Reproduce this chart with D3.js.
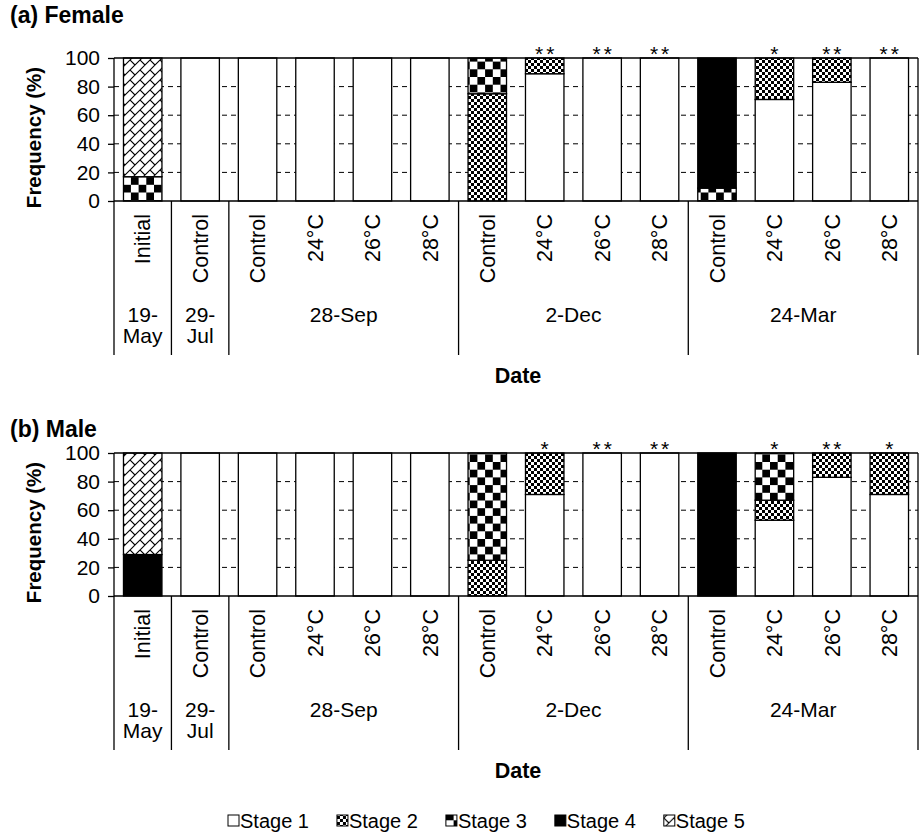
<!DOCTYPE html>
<html>
<head>
<meta charset="utf-8">
<script src="https://cdn.jsdelivr.net/npm/d3@7"></script>
<style>
  html, body { margin: 0; padding: 0; background: #fff; }
  svg { display: block; font-family: "Liberation Sans", Arial, sans-serif; }
</style>
</head>
<body>
<svg id="chart" width="922" height="835"></svg>
<script>
// ---------------- DATA ----------------
const categories = ["Initial","Control","Control","24°C","26°C","28°C","Control","24°C","26°C","28°C","Control","24°C","26°C","28°C"];
const groupLabels = [["19-","May"],["29-","Jul"],["28-Sep"],["2-Dec"],["24-Mar"]];
const groupSizes = [1,1,4,4,4];
const stageNames = ["Stage 1","Stage 2","Stage 3","Stage 4","Stage 5"];
const yTicks = [0,20,40,60,80,100];

const femaleStage1 = [0,100,100,100,100,100,0,89,100,100,0,71,83,100];
const femaleStage2 = [0,0,0,0,0,0,75,11,0,0,0,29,17,0];
const femaleStage3 = [17,0,0,0,0,0,25,0,0,0,9,0,0,0];
const femaleStage4 = [0,0,0,0,0,0,0,0,0,0,91,0,0,0];
const femaleStage5 = [83,0,0,0,0,0,0,0,0,0,0,0,0,0];
const femaleSig = ["","","","","","","","**","**","**","","*","**","**"];

const maleStage1 = [0,100,100,100,100,100,0,71,100,100,0,53,83,71];
const maleStage2 = [0,0,0,0,0,0,25,29,0,0,0,14,17,29];
const maleStage3 = [0,0,0,0,0,0,75,0,0,0,0,33,0,0];
const maleStage4 = [29,0,0,0,0,0,0,0,0,0,100,0,0,0];
const maleStage5 = [71,0,0,0,0,0,0,0,0,0,0,0,0,0];
const maleSig = ["","","","","","","","*","**","**","","*","**","*"];

// ---------------- SETUP ----------------
const svg = d3.select("#chart");
const defs = svg.append("defs");

// Stage 2: fine checker
const p2 = defs.append("pattern").attr("id","pat2").attr("patternUnits","userSpaceOnUse")
  .attr("width",6).attr("height",6);
p2.append("rect").attr("width",6).attr("height",6).attr("fill","#fff");
p2.append("rect").attr("width",3).attr("height",3).attr("fill","#000");
p2.append("rect").attr("x",3).attr("y",3).attr("width",3).attr("height",3).attr("fill","#000");

// Stage 3: large checker
const p3 = defs.append("pattern").attr("id","pat3").attr("patternUnits","userSpaceOnUse")
  .attr("width",15.4).attr("height",15.4);
p3.append("rect").attr("width",15.4).attr("height",15.4).attr("fill","#fff");
p3.append("rect").attr("width",7.7).attr("height",7.7).attr("fill","#000");
p3.append("rect").attr("x",7.7).attr("y",7.7).attr("width",7.7).attr("height",7.7).attr("fill","#000");

// Stage 5: diagonal brick
const p5 = defs.append("pattern").attr("id","pat5").attr("patternUnits","userSpaceOnUse")
  .attr("width",10).attr("height",10);
p5.append("rect").attr("width",10).attr("height",10).attr("fill","#fff");
p5.append("path")
  .attr("d","M0,10 L10,0 M-1,1 L1,-1 M9,11 L11,9 M0,0 L5,5")
  .attr("stroke","#000").attr("stroke-width",1.1).attr("fill","none");

const fills = ["#fff","url(#pat2)","url(#pat3)","#000","url(#pat5)"];

const left = 114, right = 918;
const x = d3.scaleBand().domain(d3.range(categories.length)).range([left,right])
  .paddingInner(0.33).paddingOuter(0.165);
const step = x.step();

function drawPanel(opts) {
  const { top, title, titleY, stages, sig } = opts;
  const bottom = top + 143;
  const y = d3.scaleLinear().domain([0,100]).range([bottom, top]);
  const g = svg.append("g");

  // title
  g.append("text").attr("x",10).attr("y",titleY).attr("font-size",23)
    .attr("font-weight","bold").text(title);

  // dashed grid
  g.append("g").selectAll("line").data(yTicks.filter(t => t > 0 && t < 100)).join("line")
    .attr("x1",left).attr("x2",right).attr("y1",d => y(d)).attr("y2",d => y(d))
    .attr("stroke","#000").attr("stroke-width",1).attr("stroke-dasharray","5,4");

  // stacked bars
  const rows = categories.map((c,i) => {
    const r = { i };
    stageNames.forEach((s,k) => r[s] = stages[k][i]);
    return r;
  });
  const series = d3.stack().keys(stageNames)(rows);
  series.forEach((s,k) => {
    g.append("g").selectAll("rect").data(s.filter(d => d[1] - d[0] > 0)).join("rect")
      .attr("x", d => x(d.data.i))
      .attr("width", x.bandwidth())
      .attr("y", d => y(d[1]))
      .attr("height", d => y(d[0]) - y(d[1]))
      .attr("fill", fills[k])
      .attr("stroke","#000").attr("stroke-width",1.3);
  });

  // frame top & bottom axis
  g.append("line").attr("x1",left).attr("x2",right).attr("y1",top).attr("y2",top)
    .attr("stroke","#000").attr("stroke-width",1.3);
  g.append("line").attr("x1",left).attr("x2",right).attr("y1",bottom).attr("y2",bottom)
    .attr("stroke","#000").attr("stroke-width",1.3);

  // y axis
  const yAxis = d3.axisLeft(y).tickValues(yTicks).tickSize(6).tickPadding(8);
  const ya = g.append("g").attr("transform",`translate(${left},0)`).call(yAxis);
  ya.select(".domain").remove();
  ya.selectAll(".tick line").attr("stroke","#000").attr("stroke-width",1.3);
  ya.selectAll(".tick text").attr("font-size",21).attr("fill","#000")
    .attr("font-family","Liberation Sans, Arial, sans-serif");

  // vertical lines: left, right and group separators
  const sepBottom = bottom + 154;
  g.append("line").attr("x1",left).attr("x2",left).attr("y1",top).attr("y2",sepBottom)
    .attr("stroke","#000").attr("stroke-width",1.3);
  g.append("line").attr("x1",right).attr("x2",right).attr("y1",top).attr("y2",sepBottom)
    .attr("stroke","#000").attr("stroke-width",1.3);
  let acc = 0;
  const groupPos = [];
  groupSizes.forEach((n,gi) => {
    const x0 = x(acc) - x.step()*x.paddingOuter();
    const x1 = x0 + n*step;
    groupPos.push({ x0, x1, label: groupLabels[gi] });
    acc += n;
  });
  groupPos.slice(1).forEach(gp => {
    g.append("line").attr("x1",gp.x0).attr("x2",gp.x0).attr("y1",bottom).attr("y2",sepBottom)
      .attr("stroke","#000").attr("stroke-width",1.3);
  });

  // category labels
  g.append("g").selectAll("text").data(categories).join("text")
    .attr("transform",(d,i) => `translate(${x(i)+x.bandwidth()/2},${bottom+13}) rotate(-90)`)
    .attr("text-anchor","end").attr("dy","0.36em").attr("font-size",21.5).text(d => d);

  // group labels
  groupPos.forEach(gp => {
    const t = g.append("text").attr("text-anchor","middle").attr("font-size",21);
    gp.label.forEach((line,li) => {
      t.append("tspan").attr("x",(gp.x0+gp.x1)/2).attr("y",bottom + 121 + li*21).text(line);
    });
  });

  // significance
  g.append("g").selectAll("text").data(sig).join("text")
    .attr("x",(d,i) => x(i)+x.bandwidth()/2 + 1.5)
    .attr("y", top + 3)
    .attr("text-anchor","middle").attr("font-size",21).attr("letter-spacing",3)
    .text(d => d);

  // axis titles
  g.append("text").attr("transform",`translate(41,${(top+bottom)/2 + 8}) rotate(-90)`)
    .attr("text-anchor","middle").attr("font-size",20.5).attr("font-weight","bold")
    .text("Frequency (%)");
  g.append("text").attr("x",(left+right)/2 + 2).attr("y",bottom + 182)
    .attr("text-anchor","middle").attr("font-size",21.5).attr("font-weight","bold")
    .text("Date");
}

drawPanel({ top: 58, title: "(a) Female", titleY: 23, stages: [femaleStage1,femaleStage2,femaleStage3,femaleStage4,femaleStage5], sig: femaleSig });
drawPanel({ top: 453, title: "(b) Male", titleY: 437, stages: [maleStage1,maleStage2,maleStage3,maleStage4,maleStage5], sig: maleSig });

// ---------------- LEGEND ----------------
const lg = svg.append("g");
const legendY = 828;
let cursor = 0;
const items = [];
stageNames.forEach((s,k) => {
  const it = lg.append("g");
  it.append("rect").attr("x",0).attr("y",-13).attr("width",11).attr("height",11)
    .attr("fill",fills[k]).attr("stroke","#000").attr("stroke-width",1);
  const t = it.append("text").attr("x",12).attr("y",0).attr("font-size",20).text(s);
  const w = 12 + t.node().getComputedTextLength();
  items.push({ it, pos: cursor });
  cursor += w + 28;
});
const startX = 228;
items.forEach(d => d.it.attr("transform",`translate(${startX + d.pos},${legendY})`));
</script>
</body>
</html>
